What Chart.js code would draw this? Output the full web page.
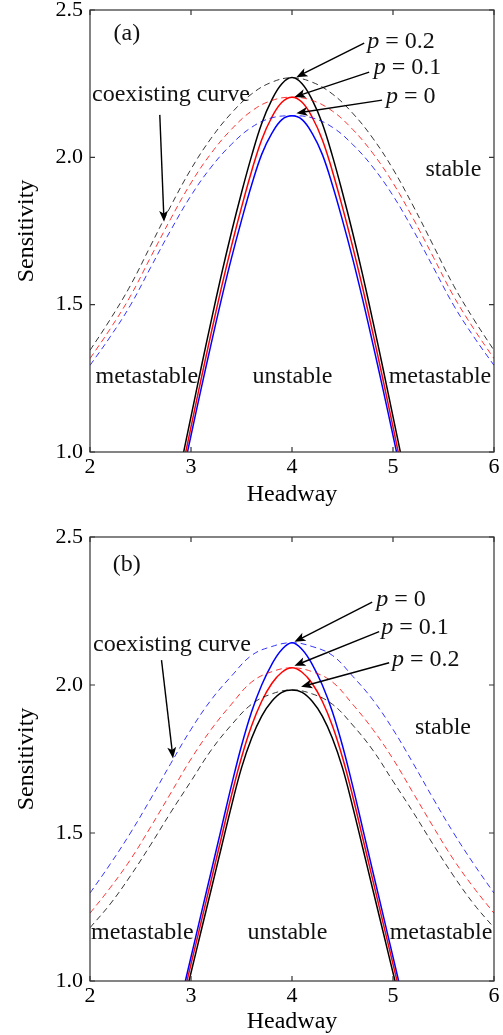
<!DOCTYPE html>
<html>
<head>
<meta charset="utf-8">
<script src="https://cdn.jsdelivr.net/npm/chart.js@4.4.1/dist/chart.umd.min.js"></script>
<style>
  body { margin: 0; background: #fff; }
  canvas { position: absolute; left: 0; }
  #chartA { top: 0; }
  #chartB { top: 527px; }
</style>
</head>
<body>
<canvas id="chartA" width="503" height="518"></canvas>
<canvas id="chartB" width="503" height="508"></canvas>
<script>
// headway grids
const headwaySolid = [2.9, 3.0, 3.1, 3.2, 3.3, 3.4, 3.5, 3.6, 3.7, 3.8, 3.9, 4.0,
                      4.1, 4.2, 4.3, 4.4, 4.5, 4.6, 4.7, 4.8, 4.9, 5.0, 5.1];
const headwayDashed = [2.0, 2.2, 2.4, 2.6, 2.8, 3.0, 3.2, 3.4, 3.6, 3.8, 4.0,
                       4.2, 4.4, 4.6, 4.8, 5.0, 5.2, 5.4, 5.6, 5.8, 6.0];

const xTicks = [2, 3, 4, 5, 6];
const yTicks = [1.0, 1.5, 2.0, 2.5];

// panel (a): neutral stability (solid)
const solidA_p0  = [0.895, 1.056, 1.214, 1.368, 1.517, 1.657, 1.786, 1.906, 2.010, 2.081, 2.128, 2.141,
                    2.128, 2.081, 2.010, 1.906, 1.786, 1.657, 1.517, 1.368, 1.214, 1.056, 0.895];
const solidA_p01 = [0.92, 1.085, 1.247, 1.404, 1.556, 1.698, 1.830, 1.953, 2.060, 2.136, 2.187, 2.204,
                    2.187, 2.136, 2.060, 1.953, 1.830, 1.698, 1.556, 1.404, 1.247, 1.085, 0.92];
const solidA_p02 = [0.955, 1.12, 1.285, 1.445, 1.60, 1.745, 1.88, 2.005, 2.115, 2.195, 2.25, 2.271,
                    2.25, 2.195, 2.115, 2.005, 1.88, 1.745, 1.60, 1.445, 1.285, 1.12, 0.955];
// panel (a): coexisting curves (dashed)
const dashA_p0  = [1.294, 1.391, 1.498, 1.626, 1.753, 1.870, 1.967, 2.044, 2.102, 2.134, 2.141,
                   2.134, 2.102, 2.044, 1.967, 1.870, 1.753, 1.626, 1.498, 1.391, 1.294];
const dashA_p01 = [1.317, 1.418, 1.529, 1.661, 1.792, 1.913, 2.014, 2.095, 2.157, 2.193, 2.204,
                   2.193, 2.157, 2.095, 2.014, 1.913, 1.792, 1.661, 1.529, 1.418, 1.317];
const dashA_p02 = [1.345, 1.45, 1.565, 1.70, 1.835, 1.96, 2.065, 2.15, 2.215, 2.255, 2.27,
                   2.255, 2.215, 2.15, 2.065, 1.96, 1.835, 1.70, 1.565, 1.45, 1.345];

// panel (b)
const solidB_p0  = [0.936, 1.081, 1.226, 1.37, 1.515, 1.66, 1.795, 1.91, 2.0, 2.07, 2.12, 2.143,
                    2.12, 2.07, 2.0, 1.91, 1.795, 1.66, 1.515, 1.37, 1.226, 1.081, 0.936];
const solidB_p01 = [0.915, 1.057, 1.199, 1.341, 1.483, 1.626, 1.755, 1.862, 1.945, 2.005, 2.043, 2.058,
                    2.043, 2.005, 1.945, 1.862, 1.755, 1.626, 1.483, 1.341, 1.199, 1.057, 0.915];
const solidB_p02 = [0.888, 1.028, 1.169, 1.309, 1.45, 1.59, 1.72, 1.82, 1.895, 1.945, 1.975, 1.983,
                    1.975, 1.945, 1.895, 1.82, 1.72, 1.59, 1.45, 1.309, 1.169, 1.028, 0.888];
const dashB_p0  = [1.297, 1.395, 1.50, 1.615, 1.735, 1.85, 1.95, 2.03, 2.10, 2.13, 2.143,
                   2.13, 2.10, 2.03, 1.95, 1.85, 1.735, 1.615, 1.50, 1.395, 1.297];
const dashB_p01 = [1.229, 1.315, 1.41, 1.52, 1.635, 1.75, 1.85, 1.935, 2.01, 2.045, 2.058,
                   2.045, 2.01, 1.935, 1.85, 1.75, 1.635, 1.52, 1.41, 1.315, 1.229];
const dashB_p02 = [1.18, 1.26, 1.355, 1.46, 1.57, 1.675, 1.78, 1.865, 1.935, 1.97, 1.983,
                   1.97, 1.935, 1.865, 1.78, 1.675, 1.57, 1.46, 1.355, 1.26, 1.18];

const FONT = "'Liberation Serif', 'DejaVu Serif', serif";

function toPoints(xs, ys) {
    return xs.map((x, i) => ({ x: x, y: ys[i] }));
}

function solid(ys, color) {
    return {
        data: toPoints(headwaySolid, ys),
        borderColor: color,
        borderWidth: 1.5,
        pointRadius: 0,
        tension: 0.4,
        clip: 0
    };
}

function dashed(ys, color) {
    return {
        data: toPoints(headwayDashed, ys),
        borderColor: color,
        borderWidth: 0.8,
        borderDash: [6, 4],
        pointRadius: 0,
        tension: 0.4,
        clip: 0
    };
}

// frame with inward ticks on all four sides
const framePlugin = {
    id: 'frame',
    afterDraw(chart) {
        const { ctx, chartArea: a, scales: { x, y } } = chart;
        ctx.save();
        ctx.strokeStyle = '#333';
        ctx.lineWidth = 1.2;
        ctx.strokeRect(a.left, a.top, a.right - a.left, a.bottom - a.top);
        ctx.beginPath();
        xTicks.forEach(v => {
            const px = x.getPixelForValue(v);
            ctx.moveTo(px, a.bottom); ctx.lineTo(px, a.bottom - 5);
            ctx.moveTo(px, a.top); ctx.lineTo(px, a.top + 5);
        });
        yTicks.forEach(v => {
            const py = y.getPixelForValue(v);
            ctx.moveTo(a.left, py); ctx.lineTo(a.left + 5, py);
            ctx.moveTo(a.right, py); ctx.lineTo(a.right - 5, py);
        });
        ctx.stroke();
        ctx.restore();
    }
};

function drawArrow(ctx, x0, y0, x1, y1) {
    const ang = Math.atan2(y1 - y0, x1 - x0);
    const len = 12, half = 0.38;
    ctx.beginPath();
    ctx.moveTo(x0, y0);
    ctx.lineTo(x1 - Math.cos(ang) * 6, y1 - Math.sin(ang) * 6);
    ctx.stroke();
    ctx.beginPath();
    ctx.moveTo(x1, y1);
    ctx.lineTo(x1 - len * Math.cos(ang - half), y1 - len * Math.sin(ang - half));
    ctx.lineTo(x1 - 0.7 * len * Math.cos(ang), y1 - 0.7 * len * Math.sin(ang));
    ctx.lineTo(x1 - len * Math.cos(ang + half), y1 - len * Math.sin(ang + half));
    ctx.closePath();
    ctx.fill();
}

// text labels and arrows, placed in data coordinates
const notesPlugin = {
    id: 'notes',
    afterDatasetsDraw(chart, args, opts) {
        const { ctx, scales: { x, y } } = chart;
        ctx.save();
        ctx.fillStyle = '#111';
        ctx.strokeStyle = '#000';
        ctx.lineWidth = 1.4;
        ctx.textBaseline = 'middle';
        (opts.texts || []).forEach(t => {
            ctx.font = '24px ' + FONT;
            ctx.textAlign = t.align || 'center';
            ctx.fillText(t.text, x.getPixelForValue(t.x), y.getPixelForValue(t.y));
        });
        (opts.pLabels || []).forEach(t => {
            let px = x.getPixelForValue(t.x);
            const py = y.getPixelForValue(t.y);
            ctx.textAlign = 'left';
            ctx.font = 'italic 24px ' + FONT;
            ctx.fillText('p', px, py);
            px += ctx.measureText('p').width;
            ctx.font = '24px ' + FONT;
            ctx.fillText(' = ' + t.value, px, py);
        });
        ctx.fillStyle = '#000';
        (opts.arrows || []).forEach(ar => {
            drawArrow(ctx,
                x.getPixelForValue(ar.from[0]), y.getPixelForValue(ar.from[1]),
                x.getPixelForValue(ar.to[0]), y.getPixelForValue(ar.to[1]));
        });
        ctx.restore();
    }
};

function createPanel(canvasId, datasets, notes, padBottom, plotBottom) {
    const canvas = document.getElementById(canvasId);
    const ctx = canvas.getContext('2d');
    new Chart(ctx, {
        type: 'line',
        data: { datasets: datasets },
        options: {
            responsive: false,
            animation: false,
            layout: { padding: { left: 0, right: 9, top: 10, bottom: padBottom } },
            plugins: {
                legend: { display: false },
                tooltip: { enabled: false },
                notes: notes
            },
            scales: {
                x: {
                    type: 'linear',
                    min: 2, max: 6,
                    afterFit: s => {
                        s.height = canvas.height - padBottom - plotBottom;
                        s.paddingLeft = 0;
                        s.paddingRight = 0;
                    },
                    afterBuildTicks: s => { s.ticks = xTicks.map(v => ({ value: v })); },
                    grid: { display: false, drawTicks: false },
                    border: { display: false },
                    ticks: { color: '#000', padding: 2, font: { family: FONT, size: 22 } },
                    title: {
                        display: true, text: 'Headway', color: '#000',
                        padding: { top: 0, bottom: 0 },
                        font: { family: FONT, size: 24, lineHeight: 1 }
                    }
                },
                y: {
                    type: 'linear',
                    min: 1, max: 2.5,
                    afterFit: s => {
                        s.width = 90;
                        s.paddingTop = 0;
                        s.paddingBottom = 0;
                    },
                    afterBuildTicks: s => { s.ticks = yTicks.map(v => ({ value: v })); },
                    grid: { display: false, drawTicks: false },
                    border: { display: false },
                    ticks: {
                        color: '#000', padding: 7,
                        font: { family: FONT, size: 22 },
                        callback: v => v.toFixed(1)
                    },
                    title: {
                        display: true, text: 'Sensitivity', color: '#000',
                        padding: { top: 15, bottom: 0 },
                        font: { family: FONT, size: 24, lineHeight: 1 }
                    }
                }
            }
        },
        plugins: [framePlugin, notesPlugin]
    });
}

createPanel('chartA', [
    dashed(dashA_p0, '#0000ff'),
    dashed(dashA_p01, '#ff0000'),
    dashed(dashA_p02, '#000000'),
    solid(solidA_p0, '#0000ff'),
    solid(solidA_p01, '#ff0000'),
    solid(solidA_p02, '#000000')
], {
    texts: [
        { text: '(a)', x: 2.365, y: 2.42 },
        { text: 'coexisting curve', x: 2.02, y: 2.211, align: 'left' },
        { text: 'stable', x: 5.598, y: 1.957 },
        { text: 'metastable', x: 2.563, y: 1.256 },
        { text: 'unstable', x: 4.004, y: 1.256 },
        { text: 'metastable', x: 5.465, y: 1.256 }
    ],
    pLabels: [
        { value: '0.2', x: 4.744, y: 2.391 },
        { value: '0.1', x: 4.81, y: 2.303 },
        { value: '0', x: 4.93, y: 2.205 }
    ],
    arrows: [
        { from: [4.715, 2.388], to: [4.043, 2.272] },
        { from: [4.764, 2.289], to: [4.024, 2.205] },
        { from: [4.892, 2.194], to: [4.043, 2.150] },
        { from: [2.691, 2.144], to: [2.733, 1.781] }
    ]
}, 11, 452);

createPanel('chartB', [
    dashed(dashB_p0, '#0000ff'),
    dashed(dashB_p01, '#ff0000'),
    dashed(dashB_p02, '#000000'),
    solid(solidB_p0, '#0000ff'),
    solid(solidB_p01, '#ff0000'),
    solid(solidB_p02, '#000000')
], {
    texts: [
        { text: '(b)', x: 2.365, y: 2.405 },
        { text: 'coexisting curve', x: 2.03, y: 2.135, align: 'left' },
        { text: 'stable', x: 5.495, y: 1.855 },
        { text: 'metastable', x: 2.518, y: 1.162 },
        { text: 'unstable', x: 3.955, y: 1.162 },
        { text: 'metastable', x: 5.475, y: 1.162 }
    ],
    pLabels: [
        { value: '0', x: 4.833, y: 2.287 },
        { value: '0.1', x: 4.883, y: 2.193 },
        { value: '0.2', x: 4.99, y: 2.084 }
    ],
    arrows: [
        { from: [4.794, 2.280], to: [4.024, 2.146] },
        { from: [4.863, 2.180], to: [4.024, 2.065] },
        { from: [4.962, 2.075], to: [4.09, 1.994] },
        { from: [2.708, 2.084], to: [2.822, 1.752] }
    ]
}, 1, 454);
</script>
</body>
</html>
